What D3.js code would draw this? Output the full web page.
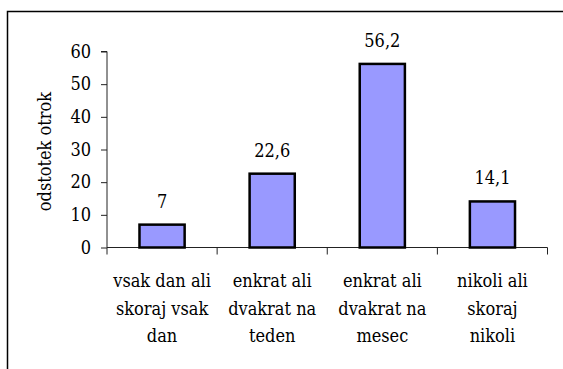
<!DOCTYPE html>
<html>
<head>
<meta charset="utf-8">
<script src="https://cdn.jsdelivr.net/npm/d3@7"></script>
<style>
  html, body { margin: 0; padding: 0; background: #fff; }
  svg { display: block; }
</style>
</head>
<body>
<svg id="chart" width="563" height="369"></svg>
<script>
// Odstotek otrok po pogostosti
const categories = [
  ["vsak dan ali", "skoraj vsak", "dan"],
  ["enkrat ali", "dvakrat na", "teden"],
  ["enkrat ali", "dvakrat na", "mesec"],
  ["nikoli ali", "skoraj", "nikoli"]
];
const values = [7, 22.6, 56.2, 14.1];
const yTicks = [0, 10, 20, 30, 40, 50, 60];
const yTitle = "odstotek otrok";

const FONT = "'DejaVu Serif Condensed', 'DejaVu Serif', serif";
const svg = d3.select("#chart").style("font-family", FONT);
const W = 563, H = 369;
const plot = { left: 107, right: 547.5, top: 51.5, bottom: 247.5 };
const fontSize = 18;

// outer chart frame (continues past the right and bottom edges)
svg.append("rect")
  .attr("x", 7.5).attr("y", 11.5)
  .attr("width", W + 10).attr("height", H + 10)
  .attr("fill", "none").attr("stroke", "#000").attr("stroke-width", 1.5);

const keys = categories.map((c, i) => i);
const x = d3.scaleBand()
  .domain(keys)
  .range([plot.left, plot.right])
  .paddingInner(0.59)
  .paddingOuter(0.295);
const step = x.step();

const y = d3.scaleLinear().domain([0, 60]).range([plot.bottom, plot.top]);

// y axis
const yAxis = d3.axisLeft(y).tickValues(yTicks).tickSize(6).tickPadding(10)
  .tickFormat(d3.format("d"));
const gy = svg.append("g").attr("transform", `translate(${plot.left},0)`).call(yAxis);
gy.attr("font-family", null).attr("font-size", null);
gy.select(".domain").attr("stroke", "#222").attr("d", `M-6,${plot.top}H0V${plot.bottom}`);
gy.selectAll(".tick line").attr("stroke", "#222");
gy.selectAll(".tick text")
  .style("font-family", FONT)
  .style("font-size", fontSize + "px").attr("fill", "#000");

// x axis baseline with boundary ticks
const boundaries = d3.range(keys.length + 1).map(i => plot.left + i * step);
const gx = svg.append("g");
gx.append("line")
  .attr("x1", plot.left).attr("x2", plot.right)
  .attr("y1", y(0)).attr("y2", y(0))
  .attr("stroke", "#222");
gx.selectAll("line.b").data(boundaries).join("line")
  .attr("class", "b")
  .attr("x1", d => d).attr("x2", d => d)
  .attr("y1", y(0)).attr("y2", y(0) + 7)
  .attr("stroke", "#222");

// bars
svg.append("g").selectAll("rect").data(values).join("rect")
  .attr("x", (d, i) => x(i))
  .attr("y", d => y(d))
  .attr("width", x.bandwidth())
  .attr("height", d => y(0) - y(d))
  .attr("fill", "#9999ff")
  .attr("stroke", "#000")
  .attr("stroke-width", 2.5);

// value labels
svg.append("g").selectAll("text").data(values).join("text")
  .attr("x", (d, i) => x(i) + x.bandwidth() / 2)
  .attr("y", d => y(d) - 17)
  .attr("text-anchor", "middle")
  .style("font-family", FONT)
  .style("font-size", fontSize + "px")
  .text(d => String(d).replace(".", ","));

// category labels
const lab = svg.append("g").selectAll("text").data(categories).join("text")
  .attr("text-anchor", "middle")
  .style("font-family", FONT)
  .style("font-size", fontSize + "px")
  .attr("transform", (d, i) => `translate(${x(i) + x.bandwidth() / 2},${y(0) + 39.5})`);
lab.selectAll("tspan").data(d => d).join("tspan")
  .attr("x", 0)
  .attr("y", (d, j) => j * 27.5)
  .text(d => d);

// y axis title
svg.append("text")
  .attr("transform", `translate(51,${(plot.top + plot.bottom) / 2 + 2}) rotate(-90)`)
  .attr("text-anchor", "middle")
  .style("font-family", FONT)
  .style("font-size", fontSize + "px")
  .text(yTitle);
</script>
</body>
</html>
